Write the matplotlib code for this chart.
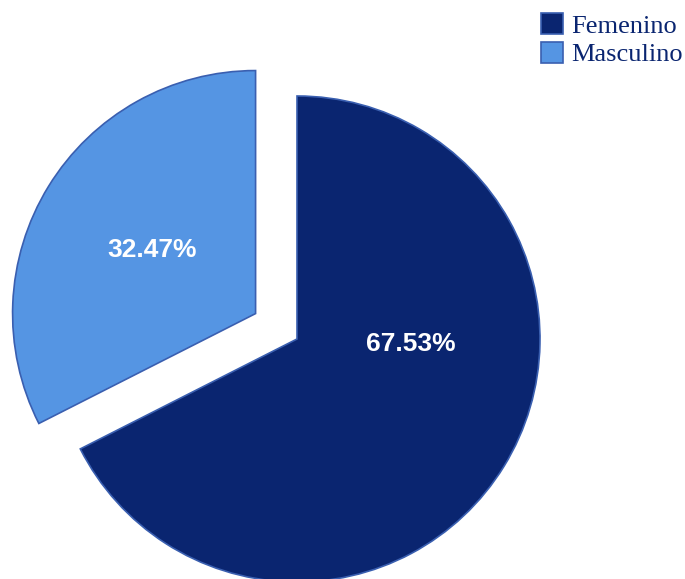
import matplotlib
matplotlib.use('Agg')
import matplotlib.pyplot as plt

# Sex distribution of the sample
labels = ['Femenino', 'Masculino']
percentages = [67.53, 32.47]
colors = ['#0a2570', '#5595e3']
explode_frac = [0, 0.2]

radius = 243
center = (297, 240)

fig = plt.figure(figsize=(6.85, 5.79), dpi=100)
ax = fig.add_axes([0, 0, 1, 1])

# matplotlib takes explode in data units, so scale by the radius
wedges, texts, pct_texts = ax.pie(
    percentages, colors=colors,
    explode=[f * radius for f in explode_frac],
    startangle=90, counterclock=False,
    center=center, radius=radius,
    autopct=lambda p: f'{p:.2f}%', pctdistance=0.5,
    wedgeprops=dict(edgecolor='#3a5fb0', linewidth=1.2),
    textprops=dict(color='white', fontsize=19, fontweight='bold',
                   family='Liberation Sans'),
)

# the larger slice carries its label closer to the horizontal
pct_texts[0].set_position((center[0] + 114, center[1] - 5))

ax.set_xlim(0, 685)
ax.set_ylim(0, 579)
ax.set_aspect('equal')
ax.axis('off')

leg = ax.legend(
    wedges, labels, loc='upper left',
    bbox_to_anchor=(541 / 685, 1 - 13 / 579),
    frameon=False, borderpad=0, borderaxespad=0,
    handlelength=0.85, handleheight=0.85, handletextpad=0.3,
    labelspacing=0.15,
    prop=dict(family='Liberation Serif', size=19),
)
for t in leg.get_texts():
    t.set_color('#0a2570')

fig.savefig('out.png', dpi=100)
